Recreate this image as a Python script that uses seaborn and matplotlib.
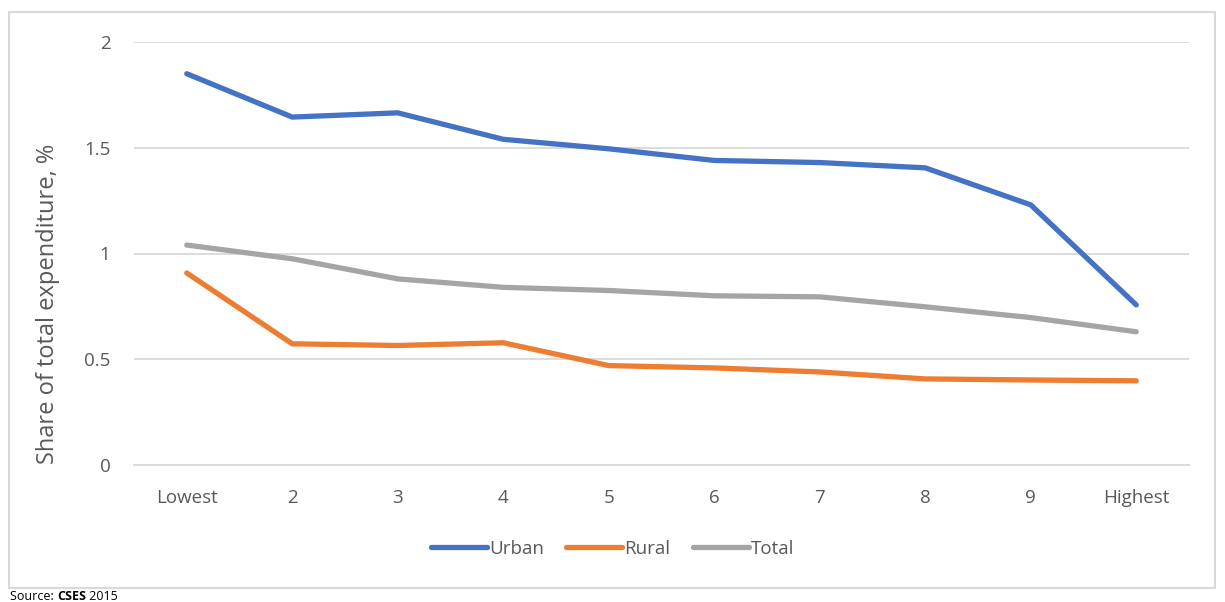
import matplotlib
matplotlib.use("Agg")
import matplotlib.pyplot as plt
from matplotlib.patches import Rectangle
import pandas as pd
import seaborn as sns

deciles = ["Lowest", "2", "3", "4", "5", "6", "7", "8", "9", "Highest"]
urban = [1.85, 1.645, 1.665, 1.54, 1.495, 1.44, 1.43, 1.405, 1.23, 0.757]
rural = [0.908, 0.573, 0.565, 0.578, 0.47, 0.459, 0.44, 0.407, 0.402, 0.398]
total = [1.04, 0.975, 0.88, 0.84, 0.825, 0.80, 0.795, 0.748, 0.697, 0.63]
series = ["Urban", "Rural", "Total"]
colors = ["#4472C4", "#ED7D31", "#A5A5A5"]
y_ticks = [0, 0.5, 1, 1.5, 2]
y_tick_labels = ["0", "0.5", "1", "1.5", "2"]

df = pd.DataFrame({
    "decile": deciles * 3,
    "value": urban + rural + total,
    "series": [s for s in series for _ in deciles],
})

sns.set_theme(style="white")
plt.rcParams["font.family"] = ["Open Sans", "DejaVu Sans"]

W, H = 1225, 602
fig = plt.figure(figsize=(W / 100, H / 100), dpi=100)
ax = fig.add_axes([134 / W, 1 - 465 / H, (1189 - 134) / W, (465 - 42) / H])

sns.lineplot(data=df, x="decile", y="value", hue="series", hue_order=series,
             palette=colors, linewidth=3.8, sort=False, ax=ax, legend=False,
             solid_capstyle="round", solid_joinstyle="round")

ax.set_xlim(-0.5, 9.5)
ax.set_ylim(0, 2)
ax.set_yticks(y_ticks)
ax.set_yticklabels(y_tick_labels)
ax.yaxis.grid(True, color="#D9D9D9", linewidth=1.3)
ax.xaxis.grid(False)
for side in ["top", "right", "left"]:
    ax.spines[side].set_visible(False)
ax.spines["bottom"].set_color("#D9D9D9")
ax.spines["bottom"].set_linewidth(1.3)
ax.tick_params(axis="both", length=0, labelsize=13.5, labelcolor="#595959")
ax.tick_params(axis="x", pad=17)
ax.tick_params(axis="y", pad=17)
ax.set_xlabel("")
ax.set_ylabel("Share of total expenditure, %", fontsize=17, color="#595959")
ax.yaxis.set_label_coords(-0.07, 0.38)

# legend under the plot
handles = [plt.Line2D([0], [0], color=c, linewidth=3.8, solid_capstyle="round") for c in colors]
fig.legend(handles, series, loc="center", bbox_to_anchor=(0.5, 1 - 549 / H), ncol=3,
           frameon=False, handlelength=3.0, handletextpad=0.1, columnspacing=1.2,
           prop={"size": 13.5}, labelcolor="#595959")

# chart frame
fig.patches.append(Rectangle((9 / W, 1 - 588 / H), (1215 - 9) / W, (588 - 12) / H,
                             transform=fig.transFigure, fill=False,
                             edgecolor="#D9D9D9", linewidth=1.5))

# source line, pieces laid out one after another
renderer = fig.canvas.get_renderer()
x_px = 10
y_frac = 1 - 600 / H
for part, weight in [("Source: ", "normal"), ("CSES", "bold"), (" 2015", "normal")]:
    t = fig.text(x_px / W, y_frac, part, fontsize=9, color="#000000",
                 va="baseline", fontweight=weight)
    x_px += t.get_window_extent(renderer).width

fig.savefig("out.png", dpi=100)
